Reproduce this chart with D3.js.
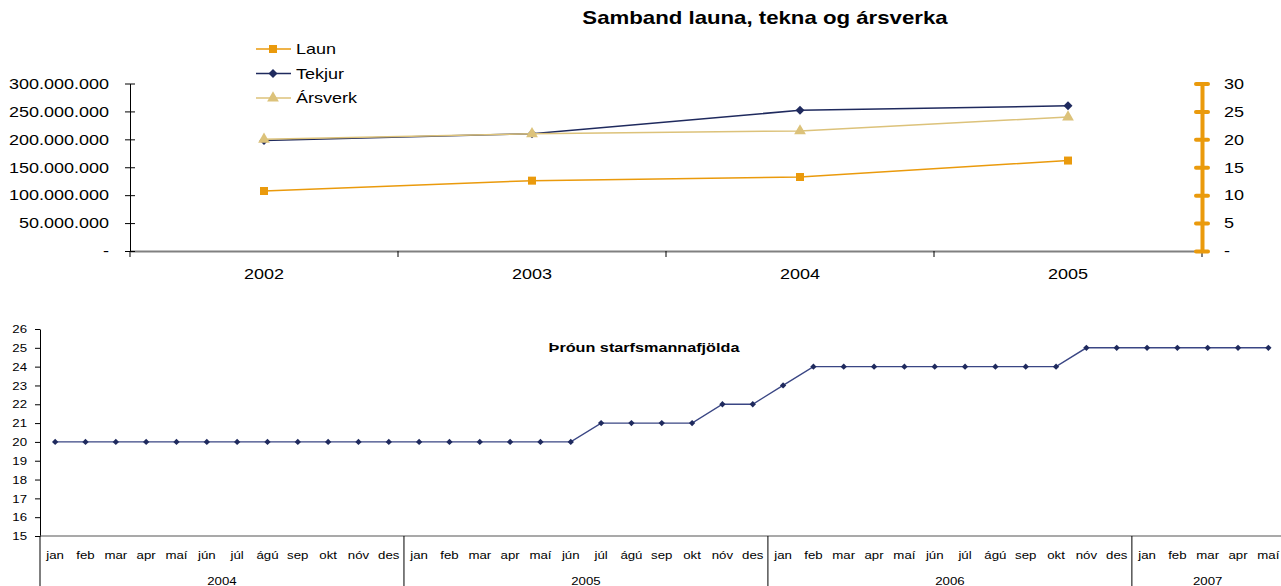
<!DOCTYPE html>
<html>
<head>
<meta charset="utf-8">
<style>
  body { margin: 0; background: #fff; }
  svg { display: block; }
  text { font-family: "Liberation Sans", Arial, sans-serif; fill: #000; }
</style>
</head>
<body>
<script src="https://d3js.org/d3.v7.min.js"></script>
<script>
// top chart data
const years = ['2002', '2003', '2004', '2005'];
const laun = [107500000, 126000000, 132500000, 162000000];
const tekjur = [198000000, 210000000, 252000000, 260000000];
const arsverk = [20, 21, 21.5, 24];
const leftTicks = [0, 50000000, 100000000, 150000000, 200000000, 250000000, 300000000];
const rightTicks = [0, 5, 10, 15, 20, 25, 30];

// bottom chart data
const monthNames = ['jan', 'feb', 'mar', 'apr', 'maí', 'jún', 'júl', 'ágú', 'sep', 'okt', 'nóv', 'des'];
const staffYears = ['2004', '2005', '2006', '2007'];
const monthsInYear = [12, 12, 12, 5];
const staff = [
  20, 20, 20, 20, 20, 20, 20, 20, 20, 20, 20, 20,
  20, 20, 20, 20, 20, 20, 21, 21, 21, 21, 22, 22,
  23, 24, 24, 24, 24, 24, 24, 24, 24, 24, 25, 25,
  25, 25, 25, 25, 25
];
const staffTicks = [15, 16, 17, 18, 19, 20, 21, 22, 23, 24, 25, 26];

const W = 1281, H = 586;
const orange = '#ea9a0c', navy = '#1f2a5e', tan = '#dcc27a';

const svg = d3.select('body').append('svg')
  .attr('width', W)
  .attr('height', H);

// the source picture is a bit wider than it is tall, so text is stretched sideways
function stretch(sel, k) {
  sel.each(function () {
    const w = this.getComputedTextLength();
    this.setAttribute('textLength', w * k);
    this.setAttribute('lengthAdjust', 'spacingAndGlyphs');
  });
}

const isl = d3.formatLocale({ decimal: ',', thousands: '.', grouping: [3], currency: ['', ''] });
const fmtBig = v => v === 0 ? '-' : isl.format(',')(v);

// ---------- top chart ----------
const gTop = svg.append('g');

const x = d3.scaleBand().domain(years).range([130, 1202]);
const yL = d3.scaleLinear().domain([0, 300000000]).range([251, 83.5]);
const yR = d3.scaleLinear().domain([0, 30]).range([251, 83.5]);

// x axis
const xAxis = gTop.append('g')
  .attr('transform', 'translate(0,251)')
  .call(d3.axisBottom(x).tickSize(0).tickPadding(16));
xAxis.select('.domain').attr('stroke', '#808080').attr('stroke-width', 2);
xAxis.selectAll('text').attr('font-size', 15).attr('font-family', null).attr('dy', '0.8em');
gTop.append('g').selectAll('line')
  .data(years.concat(['end']))
  .join('line')
  .attr('x1', (d, i) => i < years.length ? x(d) : x.range()[1])
  .attr('x2', (d, i) => i < years.length ? x(d) : x.range()[1])
  .attr('y1', 251).attr('y2', 257)
  .attr('stroke', '#000');

// left axis
const lAxis = gTop.append('g')
  .attr('transform', 'translate(130,0)')
  .call(d3.axisLeft(yL).tickValues(leftTicks).tickFormat(fmtBig).tickSizeOuter(0).tickPadding(15));
lAxis.select('.domain').attr('stroke', '#000');
lAxis.selectAll('.tick line').attr('x1', 5).attr('x2', -5).attr('stroke', '#000');
lAxis.selectAll('text').attr('font-size', 15).attr('font-family', null);

// right axis
const rAxis = gTop.append('g')
  .attr('transform', 'translate(1202,0)')
  .call(d3.axisRight(yR).tickValues(rightTicks).tickFormat(v => v === 0 ? '-' : v).tickSizeOuter(0).tickPadding(16));
rAxis.select('.domain').attr('stroke', orange).attr('stroke-width', 4);
rAxis.selectAll('.tick line').attr('x1', -6).attr('x2', 6).attr('stroke', orange).attr('stroke-width', 4).attr('stroke-linecap', 'round');
rAxis.selectAll('text').attr('font-size', 15).attr('font-family', null);

const cx = d => x(d) + x.bandwidth() / 2;

const series = [
  { name: 'Laun', values: laun, y: yL, color: orange, width: 1.5, symbol: d3.symbolSquare, size: 64, rot: 0 },
  { name: 'Tekjur', values: tekjur, y: yL, color: navy, width: 1.5, symbol: d3.symbolSquare, size: 40, rot: 45 },
  { name: 'Ársverk', values: arsverk, y: yR, color: tan, width: 1.5, symbol: d3.symbolTriangle, size: 60, rot: 0 }
];

series.forEach(s => {
  const pts = years.map((yr, i) => [cx(yr), s.y(s.values[i])]);
  gTop.append('path')
    .attr('d', d3.line()(pts))
    .attr('fill', 'none')
    .attr('stroke', s.color)
    .attr('stroke-width', s.width);
  gTop.append('g').selectAll('path')
    .data(pts)
    .join('path')
    .attr('d', d3.symbol(s.symbol, s.size))
    .attr('transform', d => `translate(${d[0]},${d[1]}) rotate(${s.rot})`)
    .attr('fill', s.color);
});

// legend
const legend = gTop.append('g');
series.forEach((s, i) => {
  const ly = 49 + i * 24.5;
  legend.append('line')
    .attr('x1', 256).attr('x2', 291).attr('y1', ly).attr('y2', ly)
    .attr('stroke', s.color).attr('stroke-width', 1.5);
  legend.append('path')
    .attr('d', d3.symbol(s.symbol, s.size)())
    .attr('transform', `translate(273,${ly}) rotate(${s.rot})`)
    .attr('fill', s.color);
  legend.append('text')
    .attr('x', 296).attr('y', ly)
    .attr('dy', '0.36em')
    .attr('font-size', 15)
    .text(s.name);
});

gTop.append('text')
  .attr('x', 765).attr('y', 24)
  .attr('text-anchor', 'middle')
  .attr('font-size', 18.5)
  .attr('font-weight', 'bold')
  .text('Samband launa, tekna og ársverka');

stretch(gTop.selectAll('text'), 1.2);

// ---------- bottom chart ----------
const gBot = svg.append('g');

const monthIdx = d3.range(staff.length);
const bw = 30.33;
const xb = d3.scaleBand().domain(monthIdx).range([40, 40 + bw * staff.length]);
const yb = d3.scaleLinear().domain([15, 26]).range([536, 329]);

// y axis
const ybAxis = gBot.append('g')
  .attr('transform', 'translate(40,0)')
  .call(d3.axisLeft(yb).tickValues(staffTicks).tickSize(5).tickSizeOuter(0).tickPadding(8));
ybAxis.select('.domain').attr('stroke', '#000');
ybAxis.selectAll('.tick line').attr('stroke', '#000');
ybAxis.selectAll('text').attr('font-size', 11.5).attr('font-family', null);

// x axis line + month labels
gBot.append('line')
  .attr('x1', 40).attr('x2', W).attr('y1', 536).attr('y2', 536)
  .attr('stroke', '#555').attr('stroke-width', 1.2);

const labels = [];
const groups = [];
let k = 0;
staffYears.forEach((yr, j) => {
  const start = k;
  for (let m = 0; m < monthsInYear[j]; m++) labels.push({ i: k++, name: monthNames[m] });
  groups.push({ yr, start, end: k });
});

gBot.append('g').selectAll('text')
  .data(labels)
  .join('text')
  .attr('x', d => xb(d.i) + xb.bandwidth() / 2)
  .attr('y', 559)
  .attr('text-anchor', 'middle')
  .attr('font-size', 11.5)
  .text(d => d.name);

// year separators and labels
gBot.append('line')
  .attr('x1', 40).attr('x2', 40).attr('y1', 536).attr('y2', H)
  .attr('stroke', '#000');
gBot.append('g').selectAll('line')
  .data(groups.slice(1))
  .join('line')
  .attr('x1', d => xb(d.start)).attr('x2', d => xb(d.start))
  .attr('y1', 536).attr('y2', H)
  .attr('stroke', '#000');
gBot.append('g').selectAll('text')
  .data(groups)
  .join('text')
  .attr('x', d => (xb(d.start) + xb(d.end - 1) + xb.bandwidth()) / 2)
  .attr('y', 585)
  .attr('text-anchor', 'middle')
  .attr('font-size', 11.5)
  .text(d => d.yr);

// line + markers
const bpts = staff.map((v, i) => [xb(i) + xb.bandwidth() / 2, yb(v)]);
gBot.append('path')
  .attr('d', d3.line()(bpts))
  .attr('fill', 'none')
  .attr('stroke', '#3a4684')
  .attr('stroke-width', 1.4);
gBot.append('g').selectAll('path')
  .data(bpts)
  .join('path')
  .attr('d', d3.symbol(d3.symbolSquare, 20))
  .attr('transform', d => `translate(${d[0]},${d[1]}) rotate(45)`)
  .attr('fill', navy);

stretch(gBot.selectAll('text'), 1.15);

const bTitle = gBot.append('text')
  .attr('x', 644).attr('y', 352)
  .attr('text-anchor', 'middle')
  .attr('font-size', 13.5)
  .attr('font-weight', 'bold')
  .text('Þróun starfsmannafjölda');
stretch(bTitle, 1.2);
</script>
</body>
</html>
